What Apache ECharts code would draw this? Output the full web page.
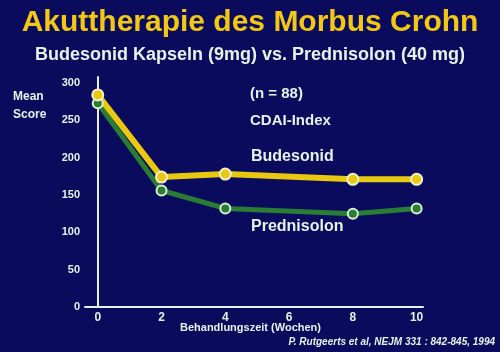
<!DOCTYPE html>
<html>
<head>
<meta charset="utf-8">
<script src="https://cdn.jsdelivr.net/npm/echarts@6/dist/echarts.min.js"></script>
<style>
  html, body { margin: 0; padding: 0; background: #0a0b5c; }
  #chart { width: 500px; height: 352px; }
</style>
</head>
<body>
<div id="chart"></div>
<script>
// Wochen
var weeks = [0, 2, 4, 8, 10];
// Mean CDAI score
var budesonid = [284, 174, 178, 171, 171];
var prednisolon = [273, 156, 132, 125, 132];
var xTicks = [0, 2, 4, 6, 8, 10];
var yTicks = [0, 50, 100, 150, 200, 250, 300];

function pairs(xs, ys) {
  return xs.map(function (x, i) { return [x, ys[i]]; });
}

var myChart = echarts.init(document.getElementById('chart'));
var font = 'Liberation Sans';
var pale = '#e6f2e6';

myChart.setOption({
  backgroundColor: '#0a0b5c',
  animation: false,
  title: [{
    text: 'Akuttherapie des Morbus Crohn',
    left: 'center', top: 3,
    textStyle: { color: '#f2c814', fontSize: 30, fontWeight: 'bold', fontFamily: font }
  }, {
    text: 'Budesonid Kapseln (9mg) vs. Prednisolon (40 mg)',
    left: 'center', top: 41,
    textStyle: { color: pale, fontSize: 18, fontWeight: 'bold', fontFamily: font }
  }],
  grid: { left: 85, right: 77, top: 77, bottom: 45 },
  xAxis: {
    type: 'value', min: -0.4, max: 10.2,
    axisLine: { lineStyle: { color: pale, width: 2 } },
    axisTick: { show: false },
    splitLine: { show: false },
    axisLabel: { customValues: xTicks, color: pale, fontSize: 12, fontWeight: 'bold', fontFamily: font, margin: 5 }
  },
  yAxis: {
    type: 'value', min: 0, max: 308,
    axisLine: { show: true, lineStyle: { color: pale, width: 2 } },
    axisTick: { show: false },
    splitLine: { show: false },
    axisLabel: { customValues: yTicks, color: pale, fontSize: 11, fontWeight: 'bold', fontFamily: font, margin: 5 }
  },
  graphic: [
    { type: 'text', left: 13, top: 88, style: { text: 'Mean\nScore', fill: pale, font: 'bold 12px ' + font, lineHeight: 18 } },
    { type: 'text', left: 250, top: 86, style: { text: '(n = 88)', fill: pale, font: 'bold 15px ' + font } },
    { type: 'text', left: 250, top: 113, style: { text: 'CDAI-Index', fill: pale, font: 'bold 15px ' + font } },
    { type: 'text', left: 251, top: 149, style: { text: 'Budesonid', fill: pale, font: 'bold 16px ' + font } },
    { type: 'text', left: 251, top: 219, style: { text: 'Prednisolon', fill: pale, font: 'bold 16px ' + font } },
    { type: 'text', left: 180, top: 322, style: { text: 'Behandlungszeit (Wochen)', fill: pale, font: 'bold 11px ' + font } },
    { type: 'text', right: 5, top: 337, style: { text: 'P. Rutgeerts et al, NEJM 331 : 842-845, 1994', fill: pale, font: 'italic bold 10px ' + font } }
  ],
  series: [{
    name: 'Prednisolon', type: 'line', data: pairs(weeks, prednisolon),
    symbol: 'circle', symbolSize: 10,
    lineStyle: { color: '#2a7d34', width: 5 },
    itemStyle: { color: '#2a7d34', borderColor: '#d8f0d0', borderWidth: 2 }
  }, {
    name: 'Budesonid', type: 'line', data: pairs(weeks, budesonid),
    symbol: 'circle', symbolSize: 11,
    lineStyle: { color: '#e9c810', width: 6 },
    itemStyle: { color: '#e9c810', borderColor: '#f0f0d0', borderWidth: 2 }
  }]
});
</script>
</body>
</html>
